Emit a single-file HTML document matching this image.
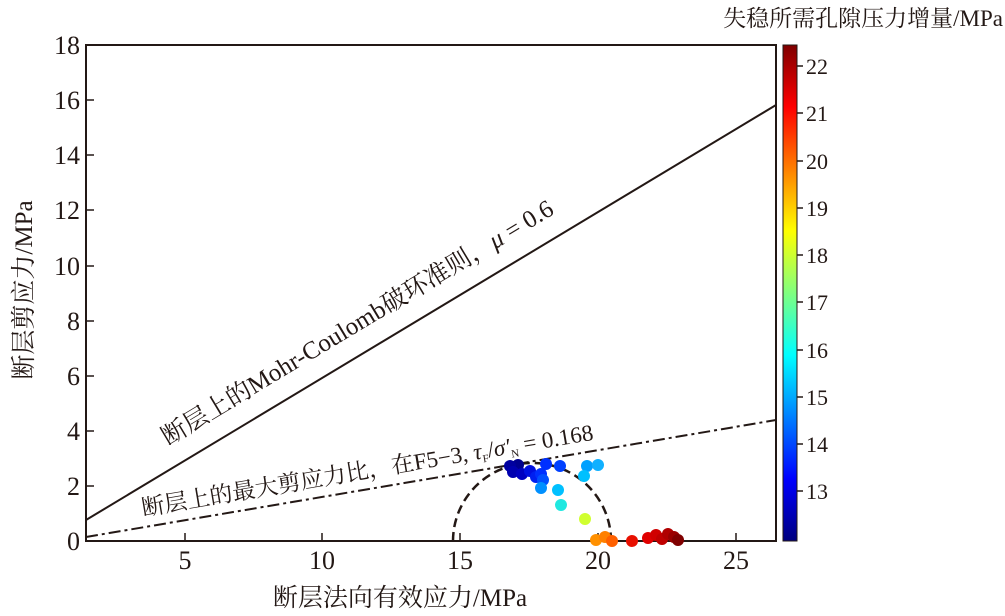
<!DOCTYPE html><html><head><meta charset="utf-8"><style>body{margin:0;background:#fff}svg text{font-family:"Liberation Serif","Noto Serif CJK SC",serif;fill:#231815}</style></head><body>
<svg width="1005" height="611" viewBox="0 0 1005 611" xmlns="http://www.w3.org/2000/svg">
<defs><linearGradient id="jet" x1="0" y1="1" x2="0" y2="0">
<stop offset="0" stop-color="#00007f"/><stop offset="0.125" stop-color="#0000ff"/><stop offset="0.375" stop-color="#00ffff"/><stop offset="0.625" stop-color="#ffff00"/><stop offset="0.875" stop-color="#ff0000"/><stop offset="1" stop-color="#7f0000"/></linearGradient></defs>
<rect x="86" y="45" width="690" height="496" fill="none" stroke="#231815" stroke-width="2"/>
<g stroke="#231815" stroke-width="1.5">
<line x1="185" y1="541" x2="185" y2="533"/><line x1="322" y1="541" x2="322" y2="533"/><line x1="460" y1="541" x2="460" y2="533"/><line x1="598" y1="541" x2="598" y2="533"/><line x1="736" y1="541" x2="736" y2="533"/>
<line x1="86" y1="486" x2="94" y2="486"/><line x1="86" y1="431" x2="94" y2="431"/><line x1="86" y1="376" x2="94" y2="376"/><line x1="86" y1="321" x2="94" y2="321"/><line x1="86" y1="266" x2="94" y2="266"/><line x1="86" y1="210" x2="94" y2="210"/><line x1="86" y1="155" x2="94" y2="155"/><line x1="86" y1="100" x2="94" y2="100"/>
</g>
<g font-size="26" text-anchor="end">
<text x="80" y="550">0</text><text x="80" y="495">2</text><text x="80" y="440">4</text><text x="80" y="385">6</text><text x="80" y="330">8</text><text x="80" y="275">10</text><text x="80" y="219">12</text><text x="80" y="164">14</text><text x="80" y="109">16</text><text x="80" y="54">18</text></g>
<g font-size="26" text-anchor="middle">
<text x="185" y="569">5</text><text x="322" y="569">10</text><text x="460" y="569">15</text><text x="598" y="569">20</text><text x="736" y="569">25</text></g>
<text x="400" y="606" font-size="25" text-anchor="middle">断层法向有效应力/MPa</text>
<text transform="translate(32,290) rotate(-90)" font-size="25" text-anchor="middle">断层剪应力/MPa</text>
<line x1="86" y1="520" x2="776" y2="105" stroke="#231815" stroke-width="2"/>
<line x1="86" y1="537" x2="776" y2="420" stroke="#231815" stroke-width="2" stroke-dasharray="12,4,3,4"/>
<text transform="translate(168,446) rotate(-31)" font-size="25">断层上的Mohr-Coulomb破环准则，<tspan font-style="italic">μ</tspan> = 0.6</text>
<text transform="translate(143,516) rotate(-9.6)" font-size="23">断层上的最大剪应力比，在F5−3, <tspan font-style="italic">τ</tspan><tspan font-size="11" dy="4">F</tspan><tspan dy="-4">/</tspan><tspan font-style="italic">σ′</tspan><tspan font-size="11" dy="4">N</tspan><tspan dy="-4"> = 0.168</tspan></text>
<path d="M453,541 A79,78 0 0 1 611,541" fill="none" stroke="#231815" stroke-width="2.5" stroke-dasharray="9,5"/>
<g>
<circle cx="518" cy="465" r="6" fill="#00008f"/><circle cx="510" cy="466" r="6" fill="#00009f"/><circle cx="513" cy="472" r="6" fill="#0000b0"/><circle cx="522" cy="474" r="6" fill="#0000c0"/><circle cx="530" cy="471" r="6" fill="#0010e0"/><circle cx="536" cy="477" r="6" fill="#0020f0"/><circle cx="541" cy="474" r="6" fill="#0030ff"/><circle cx="546" cy="464" r="6" fill="#0030ff"/><circle cx="543" cy="480" r="6" fill="#0050ff"/><circle cx="560" cy="466" r="6" fill="#0040ff"/><circle cx="587" cy="466" r="6" fill="#00a0ff"/><circle cx="598" cy="465" r="6" fill="#10b0ff"/><circle cx="584" cy="476" r="6" fill="#00c0ff"/><circle cx="541" cy="488" r="6" fill="#0090ff"/><circle cx="558" cy="490" r="6" fill="#00c0ff"/><circle cx="561" cy="505" r="6" fill="#20e8e0"/><circle cx="585" cy="519" r="6" fill="#d0ff30"/>
<circle cx="596" cy="540" r="6" fill="#ff9000"/><circle cx="605" cy="537" r="6" fill="#ff8000"/><circle cx="612" cy="541" r="6" fill="#ff6000"/><circle cx="632" cy="541" r="6" fill="#e81000"/><circle cx="648" cy="538" r="6" fill="#e00000"/><circle cx="656" cy="535" r="6" fill="#d00000"/><circle cx="662" cy="539" r="6" fill="#c00000"/><circle cx="668" cy="534" r="6" fill="#b00000"/><circle cx="674" cy="537" r="6" fill="#9a0000"/><circle cx="678" cy="540" r="6" fill="#800000"/>
</g>
<rect x="783" y="45" width="14" height="496" fill="url(#jet)" stroke="#231815" stroke-width="1"/>
<g stroke="#231815" stroke-width="1.5">
<line x1="797" y1="491" x2="803" y2="491"/><line x1="797" y1="444" x2="803" y2="444"/><line x1="797" y1="397" x2="803" y2="397"/><line x1="797" y1="350" x2="803" y2="350"/><line x1="797" y1="302" x2="803" y2="302"/><line x1="797" y1="255" x2="803" y2="255"/><line x1="797" y1="208" x2="803" y2="208"/><line x1="797" y1="161" x2="803" y2="161"/><line x1="797" y1="113" x2="803" y2="113"/><line x1="797" y1="66" x2="803" y2="66"/></g>
<g font-size="22" font-family="Liberation Sans,sans-serif">
<text x="806" y="499">13</text><text x="806" y="452">14</text><text x="806" y="405">15</text><text x="806" y="358">16</text><text x="806" y="310">17</text><text x="806" y="263">18</text><text x="806" y="216">19</text><text x="806" y="169">20</text><text x="806" y="121">21</text><text x="806" y="74">22</text></g>
<text x="1003" y="26" font-size="23" text-anchor="end">失稳所需孔隙压力增量/MPa</text>
</svg></body></html>
